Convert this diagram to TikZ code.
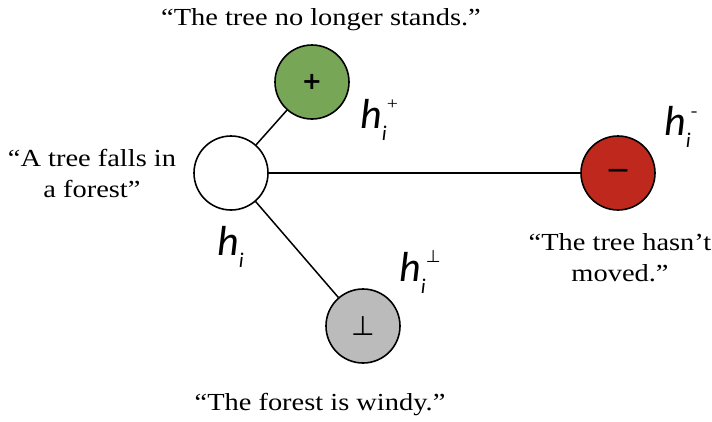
\documentclass[tikz,border=0pt]{standalone}
\usepackage{fontspec}
\setmainfont{Liberation Serif}[FakeStretch=1.16]
\newfontfamily\hf{Carlito}
\newfontfamily\symf{DejaVu Sans}
\definecolor{plusgreen}{RGB}{118,166,86}
\definecolor{minusred}{RGB}{191,40,29}
\definecolor{perpgray}{RGB}{187,187,187}
\newcommand\hlab[1]{{\hf\itshape\fontsize{42}{42}\selectfont h}\rlap{\raisebox{-12pt}{\hf\itshape\fontsize{21}{21}\selectfont i}}\hspace{5pt}\raisebox{19pt}{\fontsize{17}{17}\selectfont #1}}
\begin{document}
\begin{tikzpicture}[x=1pt,y=-1pt,
  circ/.style={circle,draw,line width=1.6pt,minimum size=74pt,inner sep=0pt},
  conn/.style={line width=1.5pt},
  quote/.style={font=\fontsize{24.5}{31}\selectfont,align=center,inner sep=0pt},
  hl/.style={anchor=base west,inner sep=0pt}]
\useasboundingbox (0,0) rectangle (712,421);
\node[circ,fill=white] (c) at (231,173) {};
\node[circ,fill=plusgreen] (p) at (312,82) {\symf\bfseries\fontsize{24}{24}\selectfont +};
\node[circ,fill=minusred] (m) at (618,173) {\symf\bfseries\fontsize{21}{21}\selectfont \raisebox{-3pt}{—}};
\node[circ,fill=perpgray] (g) at (363,326) {\symf\fontsize{27}{27}\selectfont \raisebox{-3pt}{⊥}};
\draw[conn] (c) -- (p);
\draw[conn] (c) -- (m);
\draw[conn] (c) -- (g);
\node[quote,anchor=base] (t1) at (321,25) {“The tree no longer stands.”};
\node[quote] (t2) at (92,173) {“A tree falls in\\a forest”};
\node[quote] (t3) at (620,258) {“The tree hasn’t\\moved.”};
\node[quote,anchor=base] (t4) at (320,410) {“The forest is windy.”};
\node[hl] (hp) at (360,128) {\hlab{+}};
\node[hl] (hm) at (664,135) {\hlab{-}};
\node[hl] (h0) at (217,255) {\hlab{}};
\node[hl] (hg) at (399,281) {\hlab{\symf ⊥}};
\end{tikzpicture}
\end{document}
